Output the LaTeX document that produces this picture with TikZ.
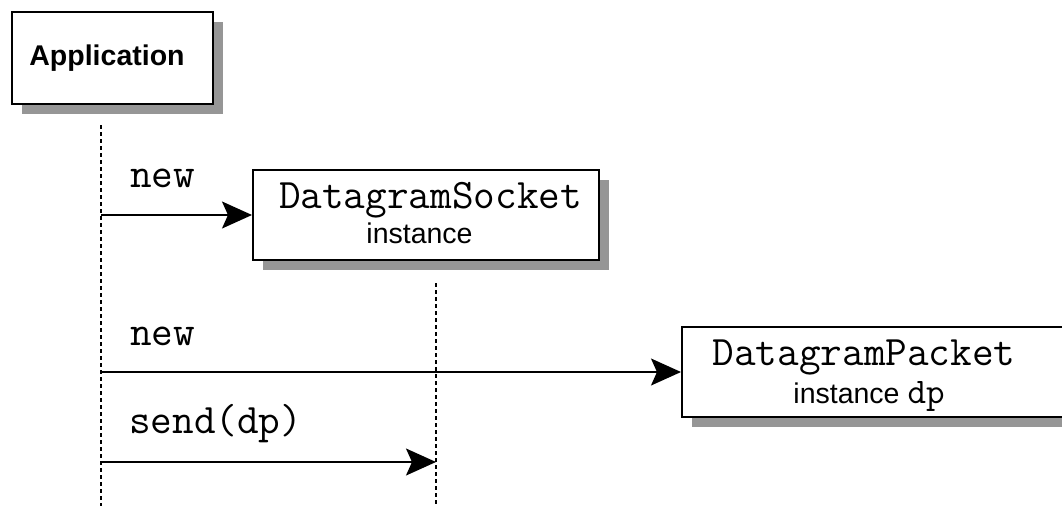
\documentclass[tikz,border=0pt]{standalone}
\usepackage{fontspec}
\setsansfont{Liberation Sans}
\usetikzlibrary{arrows.meta,shadows}
\definecolor{shadowgray}{RGB}{150,150,150}
\tikzset{
  objbox/.style={draw, line width=2pt, fill=white, rectangle, inner sep=0pt,
    drop shadow={shadow xshift=10pt, shadow yshift=-10pt, fill=shadowgray, opacity=1}},
  lifeline/.style={line width=1.3pt, dash pattern=on 4pt off 3pt},
  msg/.style={line width=1.6pt, -{Stealth[length=30pt, width=27pt, inset=6pt]}},
  code/.style={font=\ttfamily\fontsize{42}{42}\selectfont, inner sep=0pt},
  plain/.style={font=\sffamily\fontsize{28.5}{28.5}\selectfont, inner sep=0pt},
}
\begin{document}
\begin{tikzpicture}[x=1pt, y=-1pt]
\useasboundingbox (0,0) rectangle (1062,506);
% lifelines
\coordinate (l1top) at (101,125);
\coordinate (l1bot) at (101,506);
\coordinate (l2top) at (436,283);
\coordinate (l2bot) at (436,506);
\draw[lifeline] (l1top) -- (l1bot);
\draw[lifeline] (l2top) -- (l2bot);
% objects
\node[objbox, minimum width=201pt, minimum height=92pt] (app) at (112.5,58) {};
\node[font=\sffamily\bfseries\fontsize{28.5}{28.5}\selectfont, inner sep=0pt, anchor=base] (apptext) at (107,65) {Application};
\node[objbox, minimum width=346pt, minimum height=90pt] (ds) at (426,215) {};
\node[code, anchor=base] (dstitle) at (430.5,208) {DatagramSocket};
\node[plain, anchor=base] (dssub) at (419.5,243) {instance};
\node[objbox, minimum width=384pt, minimum height=90pt] (dp) at (874,372) {};
\node[code, anchor=base] (dptitle) at (864,365) {DatagramPacket};
\node[plain, anchor=base] (dpsub) at (869,403) {instance {\ttfamily\fontsize{36}{36}\selectfont dp}};
% messages
\coordinate (m1) at (101,215);
\coordinate (m2) at (101,372);
\coordinate (m3) at (101,462);
\coordinate (m3end) at (436,462);
\draw[msg] (m1) -- (ds.west);
\draw[msg] (m2) -- (dp.west);
\draw[msg] (m3) -- (m3end);
\node[code, anchor=base west] (lab1) at (130,187) {new};
\node[code, anchor=base west] (lab2) at (130,345) {new};
\node[code, anchor=base west] (lab3) at (129,433) {send(dp)};
\end{tikzpicture}
\end{document}
